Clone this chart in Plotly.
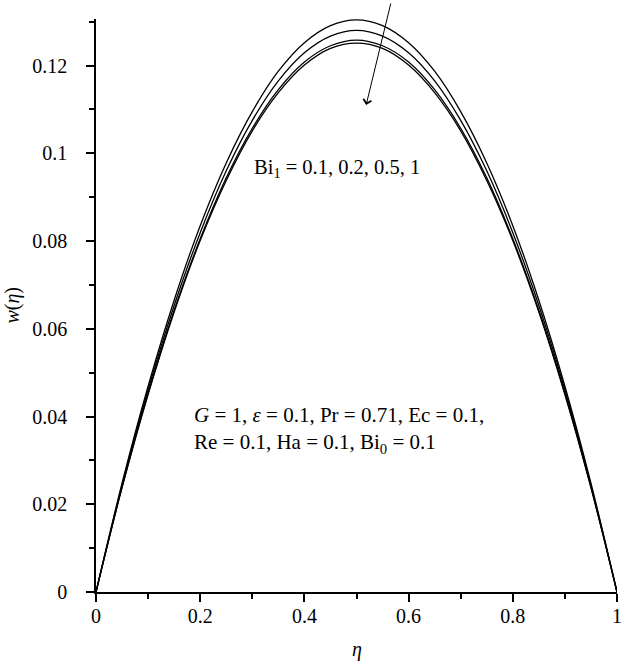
import plotly.graph_objects as go

# eta positions and w(eta) for Bi1 = 0.1, 0.2, 0.5, 1
eta = [0, 0.05, 0.1, 0.15, 0.2, 0.25, 0.3, 0.35, 0.4, 0.45, 0.5,
       0.55, 0.6, 0.65, 0.7, 0.75, 0.8, 0.85, 0.9, 0.95, 1]
w_bi01 = [0, 0.0248, 0.0469, 0.0665, 0.0835, 0.0978, 0.1095, 0.1187, 0.1252, 0.1291, 0.1304,
          0.1291, 0.1252, 0.1187, 0.1095, 0.0978, 0.0835, 0.0665, 0.0469, 0.0248, 0]
w_bi02 = [0, 0.0243, 0.0461, 0.0653, 0.0819, 0.0960, 0.1075, 0.1165, 0.1229, 0.1267, 0.1280,
          0.1267, 0.1229, 0.1165, 0.1075, 0.0960, 0.0819, 0.0653, 0.0461, 0.0243, 0]
w_bi05 = [0, 0.0239, 0.0453, 0.0642, 0.0805, 0.0944, 0.1057, 0.1145, 0.1208, 0.1245, 0.1258,
          0.1245, 0.1208, 0.1145, 0.1057, 0.0944, 0.0805, 0.0642, 0.0453, 0.0239, 0]
w_bi1 = [0, 0.0238, 0.0450, 0.0638, 0.0801, 0.0938, 0.1051, 0.1138, 0.1201, 0.1239, 0.1251,
         0.1239, 0.1201, 0.1138, 0.1051, 0.0938, 0.0801, 0.0638, 0.0450, 0.0238, 0]

series = {"Bi1 = 0.1": w_bi01, "Bi1 = 0.2": w_bi02, "Bi1 = 0.5": w_bi05, "Bi1 = 1": w_bi1}

x_ticks = [0, 0.2, 0.4, 0.6, 0.8, 1]
x_labels = ["0", "0.2", "0.4", "0.6", "0.8", "1"]
y_ticks = [0, 0.02, 0.04, 0.06, 0.08, 0.1, 0.12]
y_labels = ["0", "0.02", "0.04", "0.06", "0.08", "0.1", "0.12"]

FONT = "Liberation Serif"

fig = go.Figure()
for name, w in series.items():
    fig.add_trace(go.Scatter(x=eta, y=w, mode="lines", name=name,
                             line=dict(color="black", width=1.3, shape="spline")))

fig.update_layout(
    width=621, height=661,
    margin=dict(l=96, r=4, t=19, b=69),
    paper_bgcolor="white", plot_bgcolor="white",
    showlegend=False,
    font=dict(family=FONT, size=20, color="black"),
)

axis_style = dict(
    showgrid=False, zeroline=False, automargin=False,
    showline=True, linecolor="black", linewidth=1.5,
    ticks="outside", ticklen=8, tickwidth=1.5, tickcolor="black",
    ticklabeloverflow="allow",
)
fig.update_xaxes(
    range=[0, 1], tickvals=x_ticks, ticktext=x_labels,
    minor=dict(dtick=0.1, ticks="outside", ticklen=5, tickwidth=1.5, tickcolor="black"),
    ticklabelstandoff=-3, **axis_style,
)
fig.update_yaxes(
    range=[0, 0.1306], tickvals=y_ticks, ticktext=y_labels,
    minor=dict(dtick=0.01, ticks="outside", ticklen=5, tickwidth=1.5, tickcolor="black"),
    ticklabelstandoff=15, **axis_style,
)

# axis titles
fig.add_annotation(x=0.5, y=-0.1, xref="paper", yref="paper", yanchor="middle",
                   text="<i>η</i>", showarrow=False)
fig.add_annotation(x=-0.161, y=0.5, xref="paper", yref="paper", textangle=-90,
                   xanchor="center", yanchor="middle",
                   text="<i>w</i>(<i>η</i>)", showarrow=False)

fig.add_annotation(x=0.30, y=0.0965, xref="x", yref="y", xanchor="left",
                   text="Bi<sub>1</sub> = 0.1, 0.2, 0.5, 1", showarrow=False,
                   font=dict(size=20.5))
fig.add_annotation(x=0.184, y=0.037, xref="x", yref="y", xanchor="left", align="left",
                   text="<i>G</i> = 1, <i>ε</i> = 0.1, Pr = 0.71, Ec = 0.1,<br>Re = 0.1, Ha = 0.1, Bi<sub>0</sub> = 0.1",
                   showarrow=False, font=dict(size=21))
fig.add_annotation(x=0.5185, y=0.111, xref="x", yref="y", text="",
                   showarrow=True, ax=25, ay=-103, arrowhead=4, arrowsize=1.6,
                   arrowwidth=1, arrowcolor="black")

# drop the default 8px page margin so the figure fills the window exactly
fig.write_html("out.html", config={"displayModeBar": False},
               post_script="document.body.style.margin = '0';")
